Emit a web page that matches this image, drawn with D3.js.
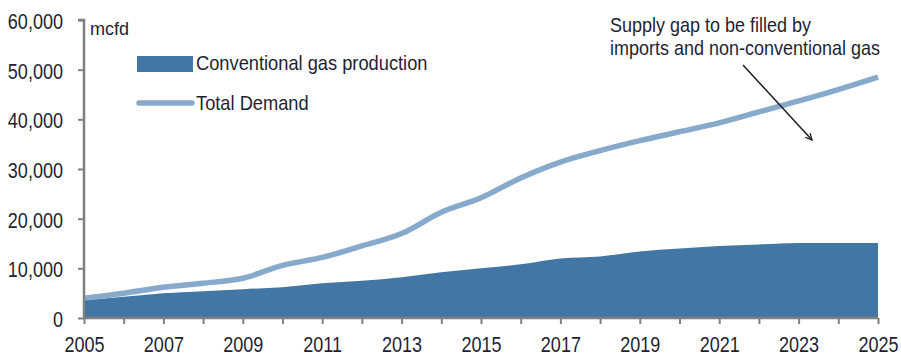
<!DOCTYPE html>
<html>
<head>
<meta charset="utf-8">
<script src="https://cdn.jsdelivr.net/npm/d3@7"></script>
<style>
  html, body { margin: 0; padding: 0; background: #fff; }
  svg { display: block; }
  text { font-family: "Liberation Sans", Arial, sans-serif; fill: #1f1f33; }
</style>
</head>
<body>
<svg id="chart" width="901" height="358"></svg>
<script>
// Gas supply vs. demand outlook, mcfd
const years = d3.range(2005, 2026);
const conventional = [3600, 4300, 5000, 5400, 5800, 6200, 7000, 7500, 8200, 9200, 10000,
  10800, 12000, 12400, 13400, 14000, 14500, 14800, 15100, 15100, 15100];
const demand = [4000, 5000, 6200, 7000, 8000, 10600, 12200, 14500, 17000, 21300, 24200,
  28200, 31400, 33700, 35700, 37500, 39300, 41500, 43700, 46000, 48500];
const yTicks = [0, 10000, 20000, 30000, 40000, 50000, 60000];
const xLabelYears = [2005, 2007, 2009, 2011, 2013, 2015, 2017, 2019, 2021, 2023, 2025];
const seriesNames = ["Conventional gas production", "Total Demand"];
const unitLabel = "mcfd";
const noteLines = ["Supply gap to be filled by", "imports and non-conventional gas"];

const areaColor = "#4176a5";
const lineColor = "#87a9cc";
const axisColor = "#808080";
const textColor = "#1f1f33";

const svg = d3.select("#chart");
const plotLeft = 84, plotRight = 878, plotTop = 20, plotBottom = 318;

const x = d3.scaleLinear().domain([2005, 2025]).range([plotLeft, plotRight]);
const y = d3.scaleLinear().domain([0, 60000]).range([plotBottom, plotTop]);

// Condensed text: a regular sans squeezed horizontally around its anchor
function narrowText(parent, tx, ty, str, size, squeeze) {
  return parent.append("text")
    .attr("transform", `translate(${tx},${ty}) scale(${squeeze},1)`)
    .attr("font-size", size)
    .attr("fill", textColor)
    .text(str);
}

// Conventional production area
const area = d3.area()
  .x((d, i) => x(years[i]))
  .y0(y(0))
  .y1(d => y(d))
  .curve(d3.curveMonotoneX);
svg.append("path")
  .datum(conventional)
  .attr("d", area)
  .attr("fill", areaColor);

// Total demand line
const line = d3.line()
  .x((d, i) => x(years[i]))
  .y(d => y(d))
  .curve(d3.curveMonotoneX);
svg.append("path")
  .datum(demand)
  .attr("d", line)
  .attr("fill", "none")
  .attr("stroke", lineColor)
  .attr("stroke-width", 5.5);

// Y axis
const yAxis = d3.axisLeft(y)
  .tickValues(yTicks)
  .tickSize(6)
  .tickFormat(d3.format(","));
const gy = svg.append("g").attr("transform", `translate(${plotLeft},0)`).call(yAxis);
gy.select(".domain").attr("stroke", axisColor).attr("stroke-width", 2.5).attr("d", `M-6,${plotTop}H0V${plotBottom}`);
gy.selectAll(".tick line").attr("stroke", axisColor).attr("stroke-width", 2);
gy.selectAll(".tick text")
  .attr("x", 0)
  .attr("dy", "0.38em")
  .attr("transform", "translate(-21,0) scale(0.82,1)")
  .attr("font-size", 22)
  .attr("fill", textColor)
  .attr("font-family", "\"Liberation Sans\", Arial, sans-serif");

// X axis
const xAxis = d3.axisBottom(x)
  .tickValues(years)
  .tickSize(6)
  .tickPadding(12)
  .tickFormat(d => xLabelYears.includes(d) ? String(d) : "");
const gx = svg.append("g").attr("transform", `translate(0,${plotBottom})`).call(xAxis);
gx.select(".domain").attr("stroke", axisColor).attr("stroke-width", 2.5).attr("d", `M${plotLeft},0H${plotRight}`);
gx.selectAll(".tick line").attr("stroke", axisColor).attr("stroke-width", 2);
gx.selectAll(".tick text")
  .attr("transform", "scale(0.82,1)")
  .attr("font-size", 22)
  .attr("fill", textColor)
  .attr("font-family", "\"Liberation Sans\", Arial, sans-serif");

// Unit label
narrowText(svg, 90, 35, unitLabel, 19, 0.95);

// Legend
const lg = svg.append("g");
lg.append("rect")
  .attr("x", 137).attr("y", 56).attr("width", 56).attr("height", 16)
  .attr("fill", areaColor);
narrowText(lg, 196, 70, seriesNames[0], 21, 0.87);
lg.append("line")
  .attr("x1", 139).attr("x2", 192).attr("y1", 103).attr("y2", 103)
  .attr("stroke", lineColor).attr("stroke-width", 5.5).attr("stroke-linecap", "round");
narrowText(lg, 196, 110, seriesNames[1], 21, 0.87);

// Annotation
noteLines.forEach((t, i) => narrowText(svg, 610, 32 + i * 23, t, 20, 0.9));

// Arrow
svg.append("defs").append("marker")
  .attr("id", "arrowhead")
  .attr("viewBox", "0 0 10 10")
  .attr("refX", 9).attr("refY", 5)
  .attr("markerWidth", 8).attr("markerHeight", 8)
  .attr("markerUnits", "userSpaceOnUse")
  .attr("orient", "auto")
  .append("path")
  .attr("d", "M1,1L9,5L1,9")
  .attr("fill", "none")
  .attr("stroke", "#222")
  .attr("stroke-width", 1.6);
svg.append("line")
  .attr("x1", 743).attr("y1", 65).attr("x2", 812).attr("y2", 140)
  .attr("stroke", "#222").attr("stroke-width", 1.6)
  .attr("marker-end", "url(#arrowhead)");
</script>
</body>
</html>
